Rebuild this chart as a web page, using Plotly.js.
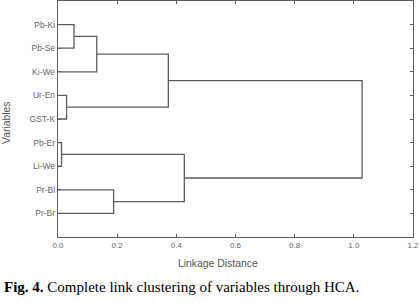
<!DOCTYPE html>
<html><head><meta charset="utf-8">
<script src="https://cdn.plot.ly/plotly-3.0.1.min.js"></script>
<style>html,body{margin:0;padding:0;background:#fff;overflow:hidden}#chart{width:420px;height:303px}</style>
</head><body><div id="chart"></div>
<script>
// Leaves, top to bottom
const leafLabels = ["Pb-Ki","Pb-Se","Ki-We","Ur-En","GST-K","Pb-Er","Li-We","Pr-Bl","Pr-Br"];
// Merges: clusters 0..8 are leaves, merge k creates cluster 9+k
const mergeLeft   = [0, 9, 3, 10, 5, 7, 13, 12];
const mergeRight  = [1, 2, 4, 11, 6, 8, 14, 15];
const mergeHeight = [0.054, 0.131, 0.029, 0.373, 0.012, 0.188, 0.427, 1.028];
const xTicks = [0, 0.2, 0.4, 0.6, 0.8, 1.0, 1.2];

const pos = leafLabels.map((_, i) => i + 1);
const ht = leafLabels.map(() => 0);
const xs = [], ys = [];
for (let k = 0; k < mergeHeight.length; k++) {
  const a = mergeLeft[k], b = mergeRight[k], h = mergeHeight[k];
  xs.push(ht[a], h, h, ht[b], null);
  ys.push(pos[a], pos[a], pos[b], pos[b], null);
  pos.push((pos[a] + pos[b]) / 2);
  ht.push(h);
}
const lineCol = '#5e5e5e';
const txtCol = '#666';
const trace = {x: xs, y: ys, mode: 'lines', type: 'scatter', hoverinfo: 'skip',
  line: {color: lineCol, width: 1.3}, showlegend: false};

// plot area in pixels
const L = 58, R = 413, T = 1, B = 237;
const px = v => (v - L) / (R - L);
const py = v => (B - v) / (B - T);

const layout = {
  width: 420, height: 303,
  margin: {l: L, r: 420 - R, t: T, b: 303 - B, autoexpand: false},
  paper_bgcolor: '#fff', plot_bgcolor: '#fff',
  font: {family: 'Liberation Sans, Arial, sans-serif', color: txtCol, size: 8},
  xaxis: {range: [0, 1.2], tickvals: xTicks, ticktext: xTicks.map(v => v.toFixed(1)),
    ticks: 'inside', ticklen: 3, tickcolor: lineCol, mirror: 'ticks', showline: true,
    linecolor: lineCol, linewidth: 1.2, showgrid: false, zeroline: false, automargin: false,
    tickfont: {size: 8, color: txtCol}},
  yaxis: {range: [10, 0], tickvals: leafLabels.map((_, i) => i + 1), ticktext: leafLabels,
    ticks: 'inside', ticklen: 3, tickcolor: lineCol, mirror: 'ticks', showline: true,
    linecolor: lineCol, linewidth: 1.2, showgrid: false, zeroline: false, automargin: false,
    tickfont: {size: 8.5, color: txtCol}},
  annotations: [
    {text: 'Linkage Distance', xref: 'paper', yref: 'paper', x: px(218), y: py(263),
     xanchor: 'center', yanchor: 'middle', showarrow: false, font: {size: 10.4, color: '#555'}},
    {text: 'Variables', xref: 'paper', yref: 'paper', x: px(7), y: py(123), textangle: -90,
     xanchor: 'center', yanchor: 'middle', showarrow: false, font: {size: 10.4, color: '#555'}},
    {text: '<b>Fig. 4.</b> Complete link clustering of variables through HCA.',
     xref: 'paper', yref: 'paper', x: px(2), y: py(287), xanchor: 'left', yanchor: 'middle',
     showarrow: false, font: {family: 'Liberation Serif, Times New Roman, serif', size: 15, color: '#000'}}
  ]
};
Plotly.newPlot('chart', [trace], layout, {staticPlot: true, displayModeBar: false});
</script></body></html>
